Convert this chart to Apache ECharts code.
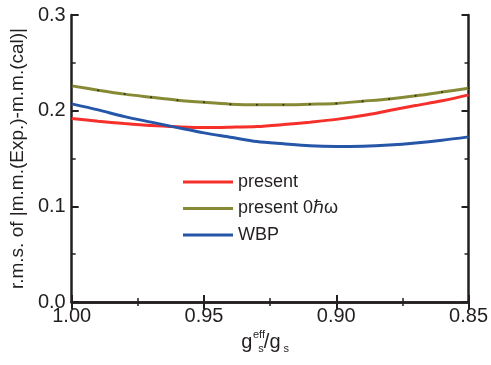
<!DOCTYPE html>
<html>
<head>
<meta charset="utf-8">
<script src="https://cdn.jsdelivr.net/npm/echarts@6/dist/echarts.min.js"></script>
<style>
  html, body { margin: 0; padding: 0; background: #fff; }
  #chart { width: 491px; height: 365px; }
</style>
</head>
<body>
<div id="chart"></div>
<script>
// Effective spin g-factor ratio (axis runs from 1.00 down to 0.85)
const gRatio = [1.00, 0.99, 0.98, 0.97, 0.96, 0.95, 0.94, 0.93, 0.92, 0.91, 0.90, 0.89, 0.88, 0.87, 0.86, 0.85];

// r.m.s. deviation of magnetic moments for each interaction
const present = [0.1917, 0.1890, 0.1865, 0.1844, 0.1831, 0.1823, 0.1827, 0.1834, 0.1855, 0.1880, 0.1909, 0.1949, 0.2001, 0.2053, 0.2103, 0.2165];
const present0hw = [0.2259, 0.2214, 0.2173, 0.2141, 0.2110, 0.2087, 0.2068, 0.2061, 0.2061, 0.2068, 0.2076, 0.2099, 0.2123, 0.2155, 0.2194, 0.2235];
const wbp = [0.2071, 0.2008, 0.1938, 0.1880, 0.1823, 0.1768, 0.1723, 0.1677, 0.1653, 0.1632, 0.1625, 0.1629, 0.1642, 0.1663, 0.1691, 0.1726];

const seriesNames = ['present', 'present 0\u210F\u03C9', 'WBP'];
const seriesColors = ['#f5302a', '#878a35', '#2556a8'];
const xTicks = { min: 0.85, max: 1.00, step: 0.05 };
const yTicks = { min: 0.0, max: 0.3, step: 0.1 };

const ink = '#231f20';
const font = 'Liberation Sans, Arial, Helvetica, sans-serif';

function pairs(values) {
  return gRatio.map((g, i) => [g, values[i]]);
}

const frameLine = { show: true, lineStyle: { color: ink, width: 2.5 } };
const majorTick = { show: true, inside: true, length: 7, lineStyle: { color: ink, width: 2 } };
const minorTick = { show: true, splitNumber: 2, length: 4, lineStyle: { color: ink, width: 1.5 } };

const chart = echarts.init(document.getElementById('chart'), null, { renderer: 'canvas' });

chart.setOption({
  animation: false,
  backgroundColor: '#ffffff',
  grid: { left: 67, right: 21, top: 15, bottom: 63, containLabel: false },
  legend: {
    left: 183,
    top: 173,
    padding: 0,
    orient: 'vertical',
    itemWidth: 50,
    itemHeight: 3,
    itemGap: 8.5,
    textStyle: { fontFamily: font, fontSize: 18, lineHeight: 17, color: ink },
    data: seriesNames.map((n, i) => ({ name: n, icon: 'rect', itemStyle: { color: seriesColors[i] } }))
  },
  xAxis: [
    {
      type: 'value',
      position: 'bottom',
      inverse: true,
      min: xTicks.min,
      max: xTicks.max,
      interval: xTicks.step,
      axisLine: frameLine,
      axisTick: majorTick,
      minorTick: minorTick,
      splitLine: { show: false },
      axisLabel: {
        margin: 4,
        fontFamily: font,
        fontSize: 20,
        color: ink,
        formatter: v => v.toFixed(2)
      },
      name: '{g|g}{s1|s}{g|/g}{s2|s}',
      nameLocation: 'middle',
      nameGap: 28,
      nameTextStyle: {
        padding: [0, 10, 0, 0],
        rich: {
          g: { fontFamily: font, fontSize: 20, color: ink },
          s1: { fontFamily: font, fontSize: 11, color: ink, padding: [13, 0, 0, 6] },
          s2: { fontFamily: font, fontSize: 11, color: ink, padding: [13, 0, 0, 3] }
        }
      }
    },
    {
      type: 'value',
      position: 'top',
      inverse: true,
      min: xTicks.min,
      max: xTicks.max,
      interval: xTicks.step,
      axisLine: frameLine,
      axisTick: majorTick,
      minorTick: minorTick,
      splitLine: { show: false },
      axisLabel: { show: false }
    }
  ],
  yAxis: [
    {
      type: 'value',
      position: 'left',
      min: yTicks.min,
      max: yTicks.max,
      interval: yTicks.step,
      axisLine: frameLine,
      axisTick: majorTick,
      minorTick: minorTick,
      splitLine: { show: false },
      axisLabel: {
        margin: 6,
        fontFamily: font,
        fontSize: 20,
        color: ink,
        formatter: v => v.toFixed(1)
      },
      name: 'r.m.s. of |m.m.(Exp.)-m.m.(cal)|',
      nameLocation: 'middle',
      nameGap: 40,
      nameTextStyle: { fontFamily: font, fontSize: 19, color: ink }
    },
    {
      type: 'value',
      position: 'right',
      min: yTicks.min,
      max: yTicks.max,
      interval: yTicks.step,
      axisLine: frameLine,
      axisTick: majorTick,
      minorTick: minorTick,
      splitLine: { show: false },
      axisLabel: { show: false }
    }
  ],
  graphic: [
    {
      type: 'text',
      left: 253,
      top: 329,
      style: { text: 'eff', fontFamily: font, fontSize: 11, fill: ink }
    }
  ],
  series: [
    {
      name: seriesNames[0],
      type: 'line',
      data: pairs(present),
      smooth: 0.3,
      symbol: 'none',
      lineStyle: { color: seriesColors[0], width: 3 },
      itemStyle: { color: seriesColors[0] }
    },
    {
      name: seriesNames[1],
      type: 'line',
      data: pairs(present0hw),
      smooth: 0.3,
      symbol: 'circle',
      symbolSize: 2,
      lineStyle: { color: seriesColors[1], width: 3 },
      itemStyle: { color: '#2b2b1a', borderWidth: 0 }
    },
    {
      name: seriesNames[2],
      type: 'line',
      data: pairs(wbp),
      smooth: 0.3,
      symbol: 'none',
      lineStyle: { color: seriesColors[2], width: 3 },
      itemStyle: { color: seriesColors[2] }
    }
  ]
});
</script>
</body>
</html>
